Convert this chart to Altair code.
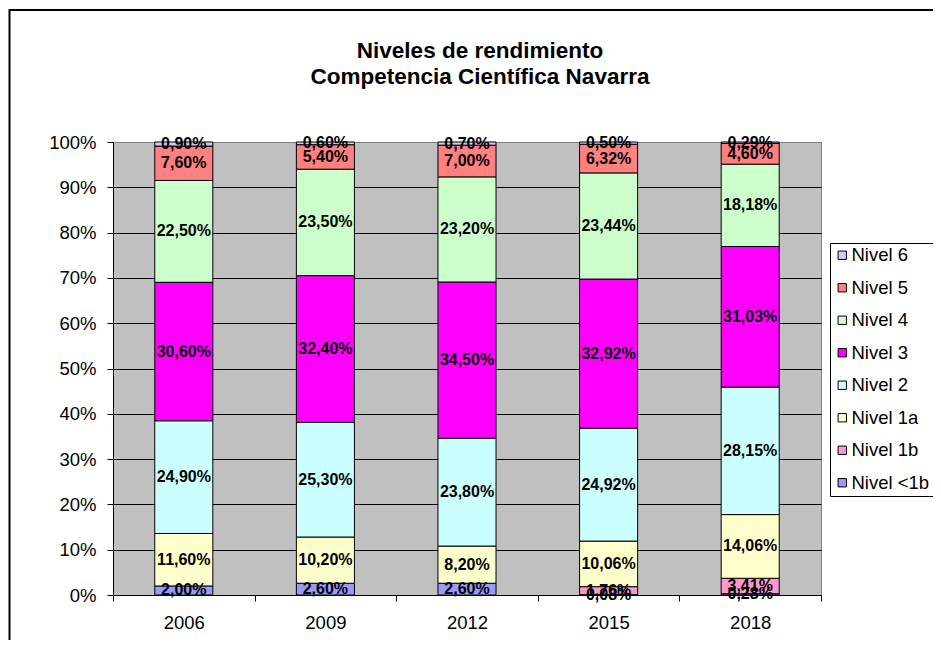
import altair as alt
import pandas as pd

years = ["2006", "2009", "2012", "2015", "2018"]
levels_legend = ["Nivel 6", "Nivel 5", "Nivel 4", "Nivel 3", "Nivel 2", "Nivel 1a", "Nivel 1b", "Nivel <1b"]
colors = ["#CCCCFF", "#FF8080", "#CCFFCC", "#FF00FF", "#CCFFFF", "#FFFFCC", "#FF99CC", "#9999FF"]

nivel_lt1b = [2.00, 2.60, 2.60, 0.08, 0.28]
nivel_1b = [None, None, None, 1.76, 3.41]
nivel_1a = [11.60, 10.20, 8.20, 10.06, 14.06]
nivel_2 = [24.90, 25.30, 23.80, 24.92, 28.15]
nivel_3 = [30.60, 32.40, 34.50, 32.92, 31.03]
nivel_4 = [22.50, 23.50, 23.20, 23.44, 18.18]
nivel_5 = [7.60, 5.40, 7.00, 6.32, 4.60]
nivel_6 = [0.90, 0.60, 0.70, 0.50, 0.29]

series = [
    ("Nivel <1b", nivel_lt1b),
    ("Nivel 1b", nivel_1b),
    ("Nivel 1a", nivel_1a),
    ("Nivel 2", nivel_2),
    ("Nivel 3", nivel_3),
    ("Nivel 4", nivel_4),
    ("Nivel 5", nivel_5),
    ("Nivel 6", nivel_6),
]

rows = []
for order, (lvl, vals) in enumerate(series):
    for yr, v in zip(years, vals):
        if v is not None:
            rows.append({"year": yr, "level": lvl, "order": order, "value": v})
df = pd.DataFrame(rows)

FONT = "Liberation Sans"

base = alt.Chart(df).transform_stack(
    stack="value",
    groupby=["year"],
    as_=["y0", "y1"],
    offset="normalize",
    sort=[alt.SortField("order", order="ascending")],
).transform_calculate(
    mid="(datum.y0 + datum.y1) / 2",
    label="replace(format(datum.value, '.2f'), '.', ',') + '%'",
)

x_enc = alt.X(
    "year:N",
    sort=years,
    scale=alt.Scale(paddingInner=0, paddingOuter=0),
    axis=alt.Axis(
        title=None, labelAngle=0, tickBand="extent", grid=False,
        labelFontSize=18.5, labelFont=FONT, labelColor="black",
        domainColor="black", tickColor="black", tickSize=6, labelPadding=12,
    ),
)

bars = base.mark_bar(width=alt.RelativeBandSize(0.41), stroke="black", strokeWidth=1).encode(
    x=x_enc,
    y=alt.Y(
        "y0:Q",
        scale=alt.Scale(domain=[0, 1]),
        axis=alt.Axis(
            title=None, format="%", values=[i / 10 for i in range(11)],
            grid=True,
            gridColor=alt.condition("datum.value >= 1", alt.value("#808080"), alt.value("black")),
            gridWidth=1,
            labelFontSize=18.5, labelFont=FONT, labelColor="black",
            domainColor="black", tickColor="black", tickSize=6, labelPadding=11,
        ),
    ),
    y2="y1:Q",
    color=alt.Color(
        "level:N",
        scale=alt.Scale(domain=levels_legend, range=colors),
        legend=alt.Legend(
            title=None, orient="none", legendX=717, legendY=101, direction="vertical",
            symbolType="square", symbolSize=70, symbolStrokeColor="black",
            symbolStrokeWidth=1, symbolOpacity=1,
            labelFontSize=18.5, labelFont=FONT, labelColor="black", labelOffset=0,
            rowPadding=13.5, padding=3, strokeColor="black", fillColor="white",
        ),
    ),
)

labels = base.mark_text(
    font=FONT, fontSize=16, fontWeight="bold", color="black", baseline="middle", align="center"
).encode(
    x=alt.X("year:N", sort=years),
    y=alt.Y("mid:Q"),
    text="label:N",
)

frame = alt.Chart(pd.DataFrame({"f": [0]})).mark_rect(
    fillOpacity=0, stroke="black", strokeWidth=2
).encode(
    x=alt.value(-103.5), x2=alt.value(1000), y=alt.value(-132), y2=alt.value(700)
)

chart = alt.layer(bars, labels, frame).properties(
    width=708,
    height=453,
    autosize=alt.AutoSizeParams(type="none"),
    padding={"left": 105, "top": 134, "right": 112, "bottom": 45},
    title=alt.TitleParams(
        ["Niveles de rendimiento", "Competencia Científica Navarra"],
        fontSize=22.5, font=FONT, fontWeight="bold", anchor="middle",
        dx=13, offset=-79.5, lineHeight=26.5, color="black",
    ),
    background="white",
).configure_view(fill="#C0C0C0", stroke="#808080")

chart.save("out.html", embed_options={"renderer": "svg", "actions": False})
